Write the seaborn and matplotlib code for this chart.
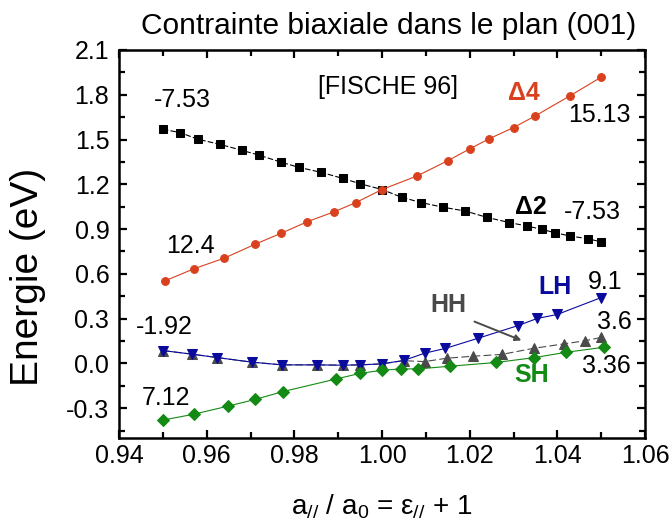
import matplotlib
matplotlib.use("Agg")
import matplotlib.pyplot as plt
import seaborn as sns
import pandas as pd

# ---- data ----
d2_x = [0.950, 0.954, 0.958, 0.963, 0.968, 0.972, 0.977, 0.981, 0.986, 0.991, 0.995, 1.000,
        1.0045, 1.009, 1.014, 1.019, 1.024, 1.029, 1.033, 1.0365, 1.0395, 1.043, 1.047, 1.050]
d2_y = [1.569, 1.546, 1.502, 1.468, 1.428, 1.395, 1.348, 1.314, 1.281, 1.240, 1.204, 1.165,
        1.113, 1.077, 1.046, 1.021, 0.978, 0.944, 0.921, 0.898, 0.875, 0.853, 0.835, 0.814]

d4_x = [0.9505, 0.957, 0.964, 0.971, 0.977, 0.983, 0.989, 0.994, 1.000, 1.008, 1.015, 1.020,
        1.0245, 1.030, 1.035, 1.043, 1.050]
d4_y = [0.553, 0.633, 0.705, 0.798, 0.872, 0.950, 1.015, 1.077, 1.165, 1.256, 1.358, 1.437,
        1.506, 1.580, 1.659, 1.795, 1.918]

lh_x = [0.950, 0.9566, 0.9624, 0.9704, 0.9772, 0.9851, 0.991, 0.995, 1.000, 1.005, 1.0097,
        1.0144, 1.022, 1.031, 1.0354, 1.040, 1.050]
lh_y = [0.086, 0.062, 0.039, 0.008, -0.010, -0.010, -0.012, -0.010, -0.003, 0.020, 0.068,
        0.100, 0.169, 0.253, 0.301, 0.328, 0.441]

hh_x = [0.950, 0.9566, 0.9624, 0.9704, 0.9772, 0.9851, 0.991, 0.995, 1.000, 1.005, 1.0097,
        1.0149, 1.0208, 1.0273, 1.0346, 1.0416, 1.0462, 1.050]
hh_y = [0.086, 0.062, 0.039, 0.008, -0.010, -0.010, -0.012, -0.010, -0.003, 0.018, 0.012,
        0.035, 0.048, 0.060, 0.101, 0.131, 0.151, 0.174]

sh_x = [0.950, 0.957, 0.9648, 0.971, 0.9774, 0.9896, 0.995, 1.000, 1.0044, 1.0083, 1.0155,
        1.026, 1.0346, 1.0419, 1.0506]
sh_y = [-0.380, -0.341, -0.287, -0.242, -0.189, -0.104, -0.067, -0.046, -0.037, -0.037,
        -0.019, 0.006, 0.038, 0.074, 0.108]

x_ticks = [0.94, 0.96, 0.98, 1.00, 1.02, 1.04, 1.06]
y_ticks = [-0.3, 0.0, 0.3, 0.6, 0.9, 1.2, 1.5, 1.8, 2.1]

title = "Contrainte biaxiale dans le plan (001)"
reference = "[FISCHE 96]"
value_labels = ["-7.53", "15.13", "-7.53", "12.4", "-1.92", "7.12", "9.1", "3.6", "3.36"]

# ---- style ----
sns.set_style("ticks")
plt.rcParams["font.family"] = ["Liberation Sans", "DejaVu Sans"]
plt.rcParams["mathtext.default"] = "regular"
for key in ["text.color", "axes.labelcolor", "xtick.color", "ytick.color", "axes.edgecolor"]:
    plt.rcParams[key] = "black"

C_D2 = "black"
C_D4 = "#d9411e"
C_LH = "#0a0a9c"
C_HH = "#4a4a4a"
C_SH = "#138a13"

fig = plt.figure(figsize=(6.71, 5.22), dpi=100)
ax = fig.add_axes([119 / 671, 1 - 438 / 522, (645 - 119) / 671, (438 - 50) / 522])

def draw(xs, ys, color, marker, ms, ls):
    df = pd.DataFrame({"x": xs, "y": ys})
    sns.lineplot(data=df, x="x", y="y", ax=ax, color=color, marker=marker,
                 markersize=ms, markeredgecolor=color, markerfacecolor=color,
                 linewidth=0.8, linestyle=ls, sort=False, estimator=None)

draw(d2_x, d2_y, C_D2, "s", 5.2, (0, (5, 2)))
draw(d4_x, d4_y, C_D4, "o", 5.6, "-")
draw(hh_x, hh_y, C_HH, "^", 7.5, (0, (7, 3)))
draw(lh_x, lh_y, C_LH, "v", 7.5, "-")
draw(sh_x, sh_y, C_SH, "D", 6.2, "-")

ax.set_xlim(0.94, 1.06)
ax.set_ylim(-0.5, 2.1)
ax.set_xticks(x_ticks)
ax.set_xticklabels([f"{v:.2f}" for v in x_ticks])
ax.set_yticks(y_ticks)
ax.set_yticklabels([f"{v:.1f}" for v in y_ticks])
ax.xaxis.set_minor_locator(matplotlib.ticker.MultipleLocator(0.01))
ax.yaxis.set_minor_locator(matplotlib.ticker.MultipleLocator(0.15))
ax.tick_params(which="both", direction="in", top=True, right=True, width=1.6, labelsize=18,
               color="black", labelcolor="black")
ax.tick_params(which="major", length=6)
ax.tick_params(which="minor", length=4)
ax.tick_params(axis="x", pad=4)
ax.tick_params(axis="y", pad=7)
for s in ax.spines.values():
    s.set_linewidth(1.8)
    s.set_color("black")
    s.set_visible(True)

ax.set_xlabel("a$_{//}$ / a$_0$ = ε$_{//}$ + 1", fontsize=20, color="black")
ax.xaxis.set_label_coords(0.5, -0.198)
ax.xaxis.label.set_va("baseline")
ax.set_ylabel("Energie (eV)", fontsize=28, color="black")
ax.yaxis.set_label_coords(-0.173, 0.415)
ax.yaxis.label.set_va("center")

fig.text(389 / 671, 1 - 26 / 522, title, ha="center", va="center", fontsize=21.5, color="black")

fs = 18
ax.text(1.0014, 1.85, reference, ha="center", va="center", fontsize=fs)
ax.text(0.9545, 1.765, value_labels[0], ha="center", va="center", fontsize=fs)
ax.text(1.0324, 1.81, "Δ4", ha="center", va="center", fontsize=fs, color=C_D4, fontweight="bold")
ax.text(1.0497, 1.665, value_labels[1], ha="center", va="center", fontsize=fs)
ax.text(1.034, 1.045, "Δ2", ha="center", va="center", fontsize=fs, color="black", fontweight="bold")
ax.text(1.0479, 1.015, value_labels[2], ha="center", va="center", fontsize=fs)
ax.text(0.9564, 0.784, value_labels[3], ha="center", va="center", fontsize=fs)
ax.text(0.9503, 0.244, value_labels[4], ha="center", va="center", fontsize=fs)
ax.text(0.9507, -0.231, value_labels[5], ha="center", va="center", fontsize=fs)
ax.text(1.0395, 0.512, "LH", ha="center", va="center", fontsize=fs, color=C_LH, fontweight="bold")
ax.text(1.051, 0.546, value_labels[6], ha="center", va="center", fontsize=fs)
ax.text(1.0152, 0.392, "HH", ha="center", va="center", fontsize=fs, color=C_HH, fontweight="bold")
ax.text(1.0531, 0.278, value_labels[7], ha="center", va="center", fontsize=fs)
ax.text(1.0512, -0.017, value_labels[8], ha="center", va="center", fontsize=fs)
ax.text(1.0342, -0.077, "SH", ha="center", va="center", fontsize=fs, color=C_SH, fontweight="bold")
ax.annotate("", xy=(1.0324, 0.147), xytext=(1.0205, 0.287),
            arrowprops=dict(arrowstyle="-|>", color=C_HH, lw=1.4, mutation_scale=9))

fig.savefig("out.png", dpi=100)
